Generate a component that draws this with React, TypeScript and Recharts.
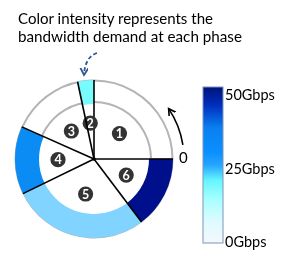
import { PieChart, Pie, Cell } from 'recharts';

// phases of the cycle, going counter-clockwise from 0
const phases = ['1', '2', '3', '4', '5', '6'];
const phaseSpan = [90, 12, 54, 50, 101, 53]; // degrees of the circle per phase
const titleLines = ['Color intensity represents the', 'bandwidth demand at each phase'];
const barTicks = [0, 25, 50];
const barUnit = 'Gbps';
const barMax = 50;

// outer ring colour per phase (none = no demand shown)
const ringColors = ['none', '#78fbff', 'none', '#0b8cf5', '#80d4ff', '#000f8c'];
const gradientStops = [
  { o: 0, c: '#00127a' },
  { o: 0.12, c: '#0030bf' },
  { o: 0.26, c: '#0a7ff0' },
  { o: 0.42, c: '#0a90ff' },
  { o: 0.5, c: '#26a4ff' },
  { o: 0.6, c: '#66f6ff' },
  { o: 0.72, c: '#a6ffff' },
  { o: 0.86, c: '#ddfbff' },
  { o: 1, c: '#f4f8fc' },
];

const CX = 94;
const CY = 159;
const R_OUT = 79;
const R_IN = 55;
const RAD = Math.PI / 180;
const FONT = 'Lato, "Open Sans", sans-serif';

const phaseData = phases.map((name, i) => ({ name, value: phaseSpan[i] }));
const fullRing = [{ name: 'ring', value: 1 }];

const polar = (cx: number, cy: number, r: number, a: number) => [
  cx + r * Math.cos(-a * RAD),
  cy + r * Math.sin(-a * RAD),
];

const PhaseLabel = (props: any) => {
  const { cx, cy, startAngle, midAngle, outerRadius, index } = props;
  const [x1, y1] = polar(cx, cy, outerRadius, startAngle);
  const [lx, ly] = polar(cx, cy, 36, midAngle);
  return (
    <g>
      <line x1={cx} y1={cy} x2={x1} y2={y1} stroke="#000" strokeWidth={1.6} />
      <circle cx={lx} cy={ly} r={7.6} fill="#333" />
      <text x={lx} y={ly + 4.5} textAnchor="middle" fill="#fff" fontSize={12.5} fontWeight="bold" fontFamily={FONT}>
        {phases[index]}
      </text>
    </g>
  );
};

// colour bar geometry
const BAR_X = 203;
const BAR_W = 20;
const BAR_TOP = 87;
const BAR_BOTTOM = 243;
const labelY = (v: number) => 247 - (v / barMax) * 147;

export default function App() {
  const [ax1, ay1] = polar(CX, CY, 90, 9);
  const [ax2, ay2] = polar(CX, CY, 90, 34);

  return (
    <div style={{ position: 'fixed', left: 0, top: 0 }}>
      <PieChart width={289} height={256} margin={{ top: 0, right: 0, bottom: 0, left: 0 }}>
        <defs>
          <linearGradient id="bwGrad" x1="0" y1="0" x2="0" y2="1">
            {gradientStops.map((s) => (
              <stop key={s.o} offset={s.o} stopColor={s.c} />
            ))}
          </linearGradient>
          <marker id="arrowBlack" markerWidth="10" markerHeight="10" refX="7" refY="4" orient="auto" markerUnits="userSpaceOnUse">
            <path d="M0,0 L7,4 L0,8" fill="none" stroke="#000" strokeWidth={1.6} />
          </marker>
          <marker id="arrowBlue" markerWidth="10" markerHeight="10" refX="7" refY="4" orient="auto" markerUnits="userSpaceOnUse">
            <path d="M0,0 L7,4 L0,8" fill="none" stroke="#2f5597" strokeWidth={1.8} />
          </marker>
        </defs>

        {titleLines.map((t, i) => (
          <text key={t} x={18} y={24 + i * 18} fontSize={15} fill="#000" fontFamily={FONT}
            textLength={i === 0 ? 195 : 224} lengthAdjust="spacingAndGlyphs">
            {t}
          </text>
        ))}

        {/* grey guide arcs */}
        <Pie data={fullRing} dataKey="value" cx={CX} cy={CY} startAngle={0} endAngle={360}
          innerRadius={57} outerRadius={78.5} fill="none" stroke="#b4b4b4" strokeWidth={2}
          isAnimationActive={false} />

        {/* bandwidth ring */}
        <Pie data={phaseData} dataKey="value" cx={CX} cy={CY} startAngle={0} endAngle={360}
          innerRadius={R_IN} outerRadius={R_OUT} stroke="none" isAnimationActive={false}>
          {phaseData.map((d, i) => (
            <Cell key={d.name} fill={ringColors[i]} />
          ))}
        </Pie>

        {/* phase boundaries and numbers */}
        <Pie data={phaseData} dataKey="value" cx={CX} cy={CY} startAngle={0} endAngle={360}
          innerRadius={0} outerRadius={R_OUT} fill="none" stroke="none"
          label={PhaseLabel} labelLine={false} isAnimationActive={false} />

        <circle cx={CX} cy={CY} r={1.8} fill="#000" />

        {/* direction arrow */}
        <path d={`M${ax1},${ay1} A90,90 0 0 0 ${ax2},${ay2}`} fill="none" stroke="#000" strokeWidth={1.6}
          markerEnd="url(#arrowBlack)" />
        <text x={179} y={163} fontSize={15} fontFamily={FONT} fill="#000">0</text>

        {/* pointer from caption */}
        <path d="M97,53 Q85,57 84,75" fill="none" stroke="#2f5597" strokeWidth={1.8} strokeDasharray="4 2.5"
          markerEnd="url(#arrowBlue)" />

        {/* colour bar */}
        <rect x={BAR_X} y={BAR_TOP} width={BAR_W} height={BAR_BOTTOM - BAR_TOP} fill="url(#bwGrad)"
          stroke="#7f95b8" strokeWidth={1} />
        {barTicks.map((v) => (
          <text key={v} x={225} y={labelY(v)} fontSize={14.5} fontFamily={FONT} fill="#000">
            {`${v}${barUnit}`}
          </text>
        ))}
      </PieChart>
    </div>
  );
}
